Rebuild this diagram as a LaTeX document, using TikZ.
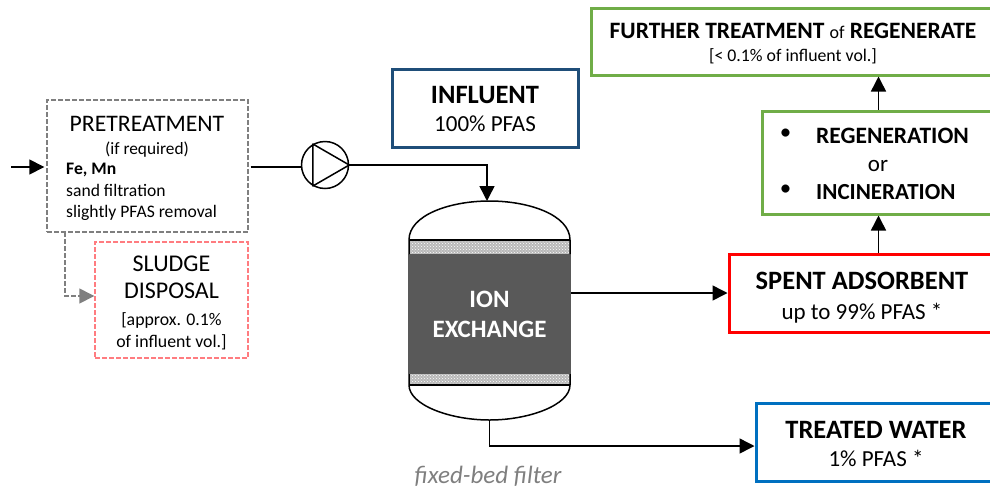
\documentclass[tikz,border=0pt]{standalone}
\usepackage{fontspec}
\setmainfont{Carlito}
\usetikzlibrary{arrows.meta,patterns,positioning,calc}
\definecolor{BoxGreen}{HTML}{70AD47}
\definecolor{BoxNavy}{HTML}{1F4E79}
\definecolor{BoxBlue}{HTML}{0070C0}
\definecolor{BedGrey}{HTML}{595959}
\definecolor{DashGrey}{HTML}{7F7F7F}
\definecolor{DashRed}{HTML}{FF7C80}
\newcommand{\headtxt}{\fontsize{26.5}{31}\selectfont}
\newcommand{\subtxt}{\fontsize{23}{27}\selectfont}
\newcommand{\smalltxt}{\fontsize{17.8}{21}\selectfont}
\newcommand{\toppad}[1]{\rule{0pt}{#1pt}}
\begin{document}
\begin{tikzpicture}[
		x=1pt,y=-1pt,
		box/.style={draw,rectangle,inner sep=0pt,align=center,line width=3pt,font=\subtxt},
		dashbox/.style={draw,rectangle,inner sep=0pt,align=center,line width=1.4pt,dashed,dash pattern=on 5pt off 2pt},
		txt/.style={inner sep=0pt,align=center},
		flow/.style={-{Triangle[length=15pt,width=15pt]},line width=1.5pt},
		vesselline/.style={line width=1.5pt}
	]
	\useasboundingbox (0,0) rectangle (990,488);

	% boxes
	\node[dashbox,draw=DashGrey,minimum width=201pt,minimum height=132pt] (pretreat) at (147.5,166) {};
	\node[dashbox,draw=DashRed,minimum width=153pt,minimum height=116pt,font=\fontsize{24}{27}\selectfont] (sludge) at (171.5,300) {\toppad{21.5}SLUDGE\\DISPOSAL\\{\smalltxt [approx. 0.1\%}\\[-5pt]{\smalltxt of influent vol.]}};
	\node[box,draw=BoxNavy,minimum width=186pt,minimum height=78pt] (influent) at (485,108) {\toppad{20}{\bfseries\headtxt INFLUENT}\\[1pt]{\subtxt 100\% PFAS}};
	\node[box,draw=BoxGreen,minimum width=404pt,minimum height=67pt] (further) at (793,41.5) {\toppad{19}{\bfseries\fontsize{23.5}{28}\selectfont FURTHER TREATMENT} {\fontsize{18}{28}\selectfont of} {\bfseries\fontsize{23.5}{28}\selectfont REGENERATE}\\[-4pt]{\smalltxt [< 0.1\% of influent vol.]}};
	\node[box,draw=BoxGreen,minimum width=233pt,minimum height=103pt] (regen) at (878.5,162.5) {};
	\node[box,draw=red,minimum width=266pt,minimum height=78pt] (spent) at (862,293) {\toppad{26}{\bfseries\headtxt SPENT ADSORBENT}\\[3pt]up to 99\% PFAS *};
	\node[box,draw=BoxBlue,minimum width=240pt,minimum height=78pt] (treated) at (876,442) {\toppad{22}{\bfseries\headtxt TREATED WATER}\\[1pt]1\% PFAS *};

	% box texts
	\node[txt,font=\fontsize{23.7}{27}\selectfont] (pretitle) at (147,124) {PRETREATMENT};
	\node[txt,font=\fontsize{17.3}{20}\selectfont] (preif) at (147,150) {(if required)};
	\node[txt,align=left,anchor=north west,font=\fontsize{17.6}{21.5}\selectfont] (prelist) at (66,163) {{\bfseries Fe, Mn}\\sand filtration\\slightly PFAS removal};
	\node[txt,anchor=west,font=\bfseries\fontsize{23.5}{27}\selectfont] (regentxt) at (816,136) {REGENERATION};
	\node[txt,font=\fontsize{23}{27}\selectfont] (ortxt) at (878,166) {or};
	\node[txt,anchor=west,font=\bfseries\fontsize{23}{27}\selectfont] (inctxt) at (816,192) {INCINERATION};
	\node[txt,font=\fontsize{23}{27}\selectfont] (bulleta) at (785.5,134) {\textbullet};
	\node[txt,font=\fontsize{23}{27}\selectfont] (bulletb) at (785.5,190) {\textbullet};

	% vessel
	\fill[gray!55] (409,240) rectangle (570,254);
	\fill[pattern=crosshatch dots,pattern color=white] (409,240) rectangle (570,254);
	\fill[gray!55] (409,374) rectangle (570,385);
	\fill[pattern=crosshatch dots,pattern color=white] (409,374) rectangle (570,385);
	\node[fill=BedGrey,text=white,inner sep=0pt,align=center,minimum width=163pt,minimum height=120pt,font=\bfseries\fontsize{25}{30}\selectfont] (bed) at (489.5,314) {ION\\EXCHANGE};
	\coordinate (vesseltop) at (489.5,201);
	\coordinate (vesselbot) at (489.5,420);
	\draw[vesselline] (409,240) -- (570,240);
	\draw[vesselline] (409,385) -- (570,385);
	\draw[vesselline] (409,254) -- (409,240) .. controls (409,215) and (450,201) .. (vesseltop) .. controls (529,201) and (570,215) .. (570,240) -- (570,254);
	\draw[vesselline] (409,374) -- (409,385) .. controls (409,405) and (450,420) .. (vesselbot) .. controls (529,420) and (570,405) .. (570,385) -- (570,374);

	% pump
	\node[draw,circle,line width=1.5pt,minimum size=47pt,inner sep=0pt] (pump) at (325,165) {};
	\draw[line width=1.5pt,line join=round] (pump.120) -- (pump.east) -- (pump.240) -- cycle;

	% flows
	\coordinate (feed) at (11,167);
	\coordinate (sludgeout) at (65,232);
	\draw[flow] (feed) -- ([xshift=-2pt]pretreat.west |- feed);
	\draw[line width=1.5pt] ([xshift=2pt]pretreat.east |- feed) -- (pump.west |- feed);
	\draw[flow] (pump.east) -| ([xshift=-2.5pt]vesseltop);
	\draw[flow,draw=DashGrey,line width=1.4pt,dash pattern=on 5pt off 2pt] (sludgeout) |- ([yshift=4pt]sludge.west);
	\draw[flow] (bed.east |- spent.west) -- (spent.west);
	\draw[flow] (vesselbot) |- ([yshift=-4pt]treated.west);
	\draw[flow] (regen.south |- spent.north) -- (regen.south);
	\draw[flow] (regen.north) -- (regen.north |- further.south);

	% label
	\node[txt,text=DashGrey,font=\itshape\fontsize{25}{30}\selectfont] (bedlabel) at (488,476) {fixed-bed filter};
\end{tikzpicture}
\end{document}
